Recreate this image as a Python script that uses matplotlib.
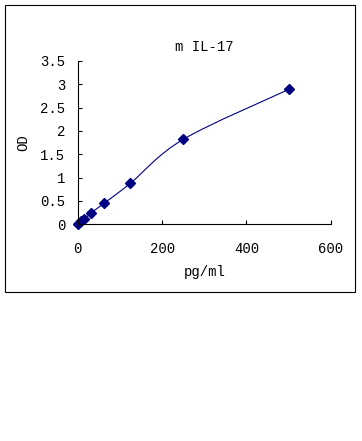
import numpy as np
import matplotlib
matplotlib.use("Agg")
from matplotlib import pyplot as plt
from matplotlib.path import Path
from matplotlib.patches import PathPatch, Rectangle
from matplotlib.transforms import IdentityTransform

# standard curve data
conc = [0, 7.8, 15.6, 31.25, 62.5, 125, 250, 500]
od = [0.01, 0.06, 0.11, 0.24, 0.45, 0.88, 1.82, 2.89]

x_ticks = [0, 200, 400, 600]
y_ticks = [0, 0.5, 1, 1.5, 2, 2.5, 3, 3.5]
y_labels = ["0", "0.5", "1", "1.5", "2", "2.5", "3", "3.5"]

navy = "#000080"
plt.rcParams['font.family'] = ['Liberation Mono', 'DejaVu Sans']

fig = plt.figure(figsize=(3.62, 4.41), dpi=100)
fig.patches.append(Rectangle((5/362, 1-292/441), 350/362, 287/441,
                             transform=fig.transFigure, fill=False,
                             edgecolor="black", linewidth=0.8))

ax = fig.add_axes([0.2146, 0.4914, 0.6995, 0.3703])
ax.set_xlim(0, 600)
ax.set_ylim(0, 3.5)
ax.spines['top'].set_visible(False)
ax.spines['right'].set_visible(False)
for s in ['left', 'bottom']:
    ax.spines[s].set_linewidth(0.8)
ax.set_xticks(x_ticks)
ax.set_yticks(y_ticks)
ax.set_yticklabels(y_labels)
ax.tick_params(direction='in', length=3, width=0.8, labelsize=10)
ax.tick_params(axis='x', pad=13)
ax.tick_params(axis='y', pad=9)

# smoothed line (bezier through points, in display space)
pts = ax.transData.transform(np.column_stack([conc, od]))
n = len(pts)
verts = [pts[0]]
codes = [Path.MOVETO]
for i in range(n - 1):
    p0 = pts[i - 1] if i > 0 else pts[i]
    p1 = pts[i]
    p2 = pts[i + 1]
    p3 = pts[i + 2] if i + 2 < n else pts[i + 1]
    c1 = p1 + (p2 - p0) / 6
    c2 = p2 - (p3 - p1) / 6
    verts += [c1, c2, p2]
    codes += [Path.CURVE4] * 3
ax.add_patch(PathPatch(Path(verts, codes), transform=IdentityTransform(),
                       fill=False, edgecolor=navy, linewidth=0.8))

ax.plot(conc, od, linestyle='none', marker='D', markersize=5,
        color=navy, clip_on=False)

ax.set_title("m IL-17", fontsize=10, pad=7)
ax.set_xlabel("pg/ml", fontsize=10, labelpad=6)
ax.set_ylabel("OD", fontsize=10, labelpad=7)

fig.savefig("out.png", dpi=100)
